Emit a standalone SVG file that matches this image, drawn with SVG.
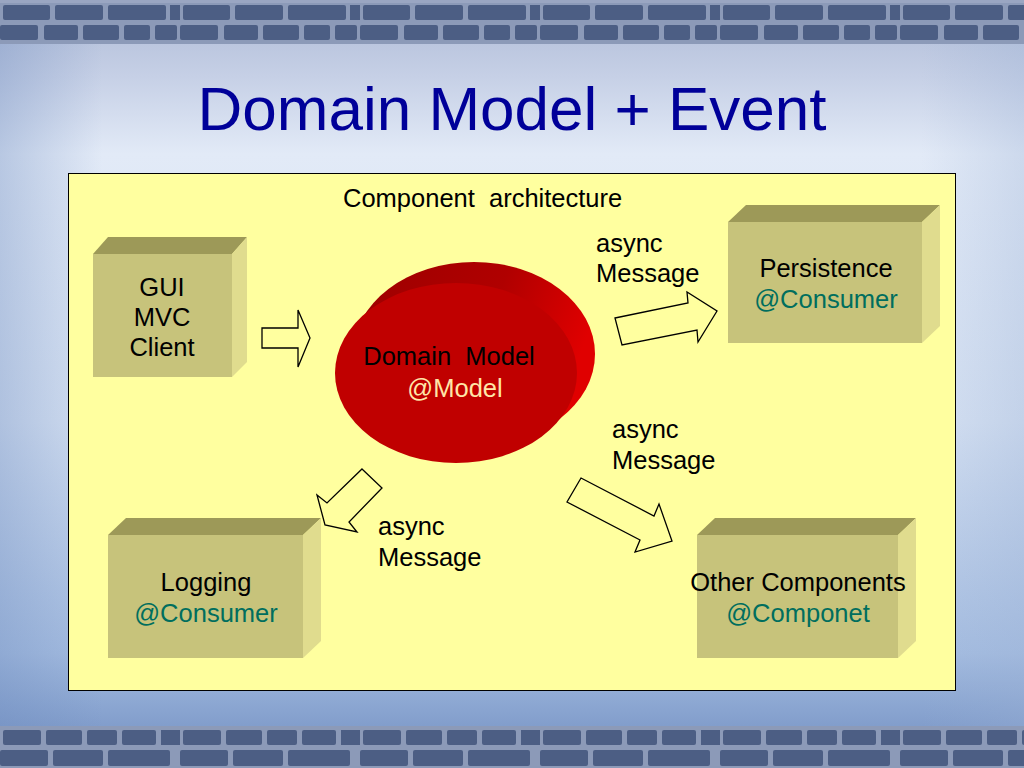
<svg xmlns="http://www.w3.org/2000/svg" width="1024" height="768" viewBox="0 0 1024 768">
<defs>
<linearGradient id="bg" x1="0" y1="0" x2="0" y2="1">
<stop offset="0" stop-color="#AEBAD6"/>
<stop offset="0.1" stop-color="#C6D0E6"/>
<stop offset="0.2" stop-color="#E2EAF7"/>
<stop offset="0.55" stop-color="#D4E0F2"/>
<stop offset="0.85" stop-color="#A4BCE0"/>
<stop offset="1" stop-color="#6E8CC0"/>
</linearGradient>
<linearGradient id="side" x1="0" y1="0" x2="1" y2="0">
<stop offset="0" stop-color="#6A88BC" stop-opacity="0.35"/>
<stop offset="0.1" stop-color="#6A88BC" stop-opacity="0"/>
<stop offset="0.9" stop-color="#9AB0D4" stop-opacity="0"/>
<stop offset="1" stop-color="#9AB0D4" stop-opacity="0.3"/>
</linearGradient>
<pattern id="bricks" x="0" y="0" width="180" height="44" patternUnits="userSpaceOnUse">
<rect width="180" height="44" fill="#8C9AB8"/>
<rect x="3" y="5" width="47" height="15" rx="2" fill="#4C5E84"/>
<rect x="55" y="5" width="48" height="15" rx="2" fill="#4C5E84"/>
<rect x="108" y="5" width="58" height="15" rx="2" fill="#4C5E84"/>
<rect x="170" y="5" width="10" height="15" fill="#4C5E84"/>
<rect x="0" y="25" width="38" height="15" rx="2" fill="#4C5E84"/>
<rect x="44" y="25" width="34" height="15" rx="2" fill="#4C5E84"/>
<rect x="83" y="25" width="36" height="15" rx="2" fill="#4C5E84"/>
<rect x="124" y="25" width="26" height="15" rx="2" fill="#4C5E84"/>
<rect x="155" y="25" width="22" height="15" rx="2" fill="#4C5E84"/>
</pattern>
<pattern id="bricks2" x="0" y="726" width="180" height="44" patternUnits="userSpaceOnUse">
<rect width="180" height="44" fill="#8C9AB8"/>
<rect x="3" y="4" width="38" height="15" rx="2" fill="#4C5E84"/>
<rect x="46" y="4" width="36" height="15" rx="2" fill="#4C5E84"/>
<rect x="87" y="4" width="30" height="15" rx="2" fill="#4C5E84"/>
<rect x="122" y="4" width="34" height="15" rx="2" fill="#4C5E84"/>
<rect x="161" y="4" width="19" height="15" fill="#4C5E84"/>
<rect x="0" y="24" width="48" height="16" rx="2" fill="#4C5E84"/>
<rect x="53" y="24" width="50" height="16" rx="2" fill="#4C5E84"/>
<rect x="108" y="24" width="62" height="16" rx="2" fill="#4C5E84"/>
</pattern>
<linearGradient id="disk" x1="0" y1="0" x2="1" y2="0.3">
<stop offset="0" stop-color="#9C0000"/>
<stop offset="0.6" stop-color="#B00000"/>
<stop offset="1" stop-color="#E00000"/>
</linearGradient>
<style>
text{font-family:"Liberation Sans",Arial,sans-serif;}
.t{font-size:25.5px;fill:#000;}
.c{text-anchor:middle;}
.teal{fill:#006E5E;}
.front{fill:#C7C37B;}
.top{fill:#9D9958;}
.sd{fill:#E0DC8E;}
.arr{fill:#FFFF9F;stroke:#000;stroke-width:1.3;stroke-linejoin:miter;}
</style>
</defs>
<rect width="1024" height="768" fill="url(#bg)"/>
<rect width="1024" height="768" fill="url(#side)"/>
<rect x="0" y="0" width="1024" height="44" fill="url(#bricks)"/>
<rect x="0" y="0" width="1024" height="3" fill="#9AA6C2"/>
<rect x="0" y="726" width="1024" height="42" fill="url(#bricks2)"/>
<text x="512" y="130" text-anchor="middle" style="font-size:62px;fill:#000099;">Domain Model + Event</text>

<rect x="68.5" y="173.5" width="887" height="517" fill="#FFFF9F" stroke="#000" stroke-width="1"/>
<text x="343" y="207" class="t" xml:space="preserve">Component  architecture</text>

<g id="gui">
<rect class="front" x="93" y="254" width="139" height="123"/>
<polygon class="top" points="93,254 108,237 247,237 232,254"/>
<polygon class="sd" points="232,254 247,237 247,362 232,377"/>
<text class="t c" x="162" y="296">GUI</text>
<text class="t c" x="162" y="326">MVC</text>
<text class="t c" x="162" y="356">Client</text>
</g>

<g id="persistence">
<rect class="front" x="728" y="222" width="194" height="121"/>
<polygon class="top" points="728,222 746,205 940,205 922,222"/>
<polygon class="sd" points="922,222 940,205 940,326 922,343"/>
<text class="t c" x="826" y="277">Persistence</text>
<text class="t c teal" x="826" y="308">@Consumer</text>
</g>

<g id="logging">
<rect class="front" x="108" y="535" width="195" height="123"/>
<polygon class="top" points="108,535 126,518 321,518 303,535"/>
<polygon class="sd" points="303,535 321,518 321,641 303,658"/>
<text class="t c" x="206" y="591">Logging</text>
<text class="t c teal" x="206" y="622">@Consumer</text>
</g>

<g id="other">
<rect class="front" x="697" y="535" width="201" height="123"/>
<polygon class="top" points="697,535 715,518 916,518 898,535"/>
<polygon class="sd" points="898,535 916,518 916,641 898,658"/>
<text class="t c" x="798" y="591">Other Components</text>
<text class="t c teal" x="798" y="622">@Componet</text>
</g>

<g id="domain">
<ellipse cx="474" cy="354" rx="121" ry="92" fill="url(#disk)"/>
<ellipse cx="456" cy="373" rx="121" ry="90" fill="#C00000"/>
<text class="t c" x="449" y="365" xml:space="preserve">Domain  Model</text>
<text class="t c" x="455" y="397" style="fill:#FFE6A8;">@Model</text>
</g>

<g id="connectors">
<polygon class="arr" points="262,328 298,328 298,310 310,338 298,367 298,348 262,348"/>
<polygon class="arr" points="615,318 688,303 687,292 717,311 698,342 697,330 622,345"/>
<polygon class="arr" points="362,469 382,488 349,522 357,532 325,525 317,495 327,503"/>
<polygon class="arr" points="581,478 654,516 659,504 672,541 635,552 640,540 567,502"/>
</g>

<g id="labels">
<text class="t" x="596" y="252">async</text>
<text class="t" x="596" y="282">Message</text>
<text class="t" x="612" y="438">async</text>
<text class="t" x="612" y="469">Message</text>
<text class="t" x="378" y="535">async</text>
<text class="t" x="378" y="566">Message</text>
</g>
</svg>
